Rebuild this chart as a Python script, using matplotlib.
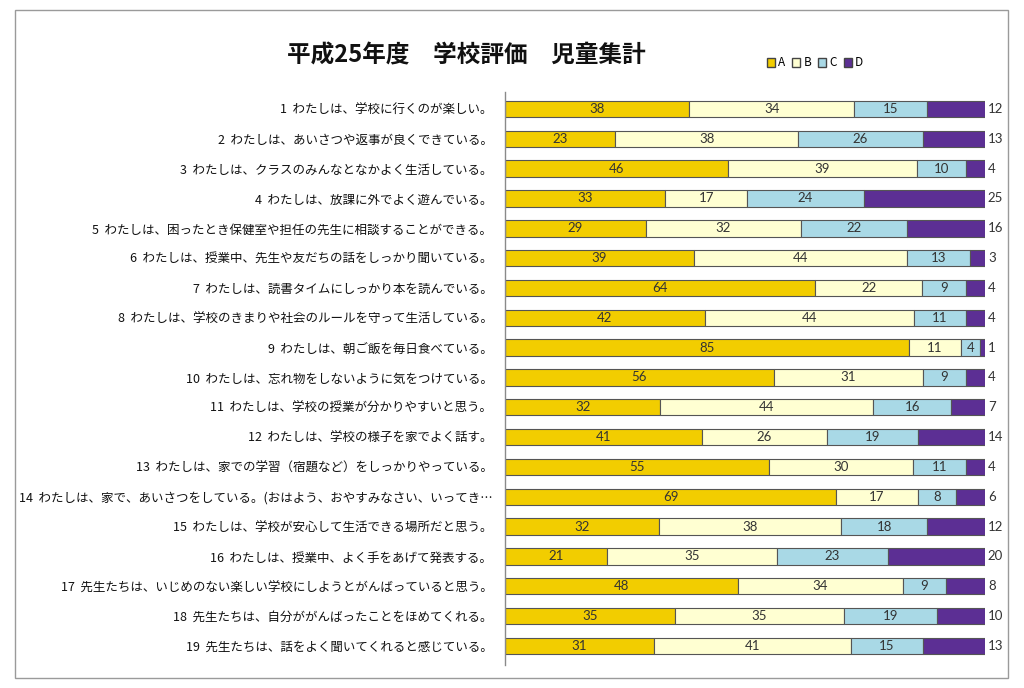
import matplotlib
matplotlib.use("Agg")
import matplotlib.pyplot as plt
import numpy as np
from matplotlib.patches import Rectangle, Patch

plt.rcParams['font.family'] = ['Noto Sans CJK JP', 'DejaVu Sans']

TITLE = "平成25年度　学校評価　児童集計"

questions = [
    "1  わたしは、学校に行くのが楽しい。",
    "2  わたしは、あいさつや返事が良くできている。",
    "3  わたしは、クラスのみんなとなかよく生活している。",
    "4  わたしは、放課に外でよく遊んでいる。",
    "5  わたしは、困ったとき保健室や担任の先生に相談することができる。",
    "6  わたしは、授業中、先生や友だちの話をしっかり聞いている。",
    "7  わたしは、読書タイムにしっかり本を読んでいる。",
    "8  わたしは、学校のきまりや社会のルールを守って生活している。",
    "9  わたしは、朝ご飯を毎日食べている。",
    "10  わたしは、忘れ物をしないように気をつけている。",
    "11  わたしは、学校の授業が分かりやすいと思う。",
    "12  わたしは、学校の様子を家でよく話す。",
    "13  わたしは、家での学習（宿題など）をしっかりやっている。",
    "14  わたしは、家で、あいさつをしている。(おはよう、おやすみなさい、いってき…",
    "15  わたしは、学校が安心して生活できる場所だと思う。",
    "16  わたしは、授業中、よく手をあげて発表する。",
    "17  先生たちは、いじめのない楽しい学校にしようとがんばっていると思う。",
    "18  先生たちは、自分ががんばったことをほめてくれる。",
    "19  先生たちは、話をよく聞いてくれると感じている。",
]

A = [38, 23, 46, 33, 29, 39, 64, 42, 85, 56, 32, 41, 55, 69, 32, 21, 48, 35, 31]
B = [34, 38, 39, 17, 32, 44, 22, 44, 11, 31, 44, 26, 30, 17, 38, 35, 34, 35, 41]
C = [15, 26, 10, 24, 22, 13, 9, 11, 4, 9, 16, 19, 11, 8, 18, 23, 9, 19, 15]
D = [12, 13, 4, 25, 16, 3, 4, 4, 1, 4, 7, 14, 4, 6, 12, 20, 8, 10, 13]

series_names = ["A", "B", "C", "D"]
colors = ["#F2CD00", "#FFFFD2", "#A9D9E6", "#5C2F94"]

data = np.array([A, B, C, D], dtype=float)
totals = data.sum(axis=0)
pct = data / totals * 100

fig = plt.figure(figsize=(10.24, 6.88), dpi=100)
fig.patch.set_facecolor("white")

# scanned page frame
fig.add_artist(Rectangle((15 / 1024, 1 - 678 / 688), 993 / 1024, 668 / 688,
                         transform=fig.transFigure, fill=False,
                         edgecolor="#9a9a9a", lw=1.0))

ax = fig.add_axes([505 / 1024, 1 - 665 / 688, 480 / 1024, 573 / 688])
y = np.arange(len(questions))
left = np.zeros(len(questions))
for k in range(4):
    ax.barh(y, pct[k], left=left, height=0.55, color=colors[k],
            edgecolor="#555555", linewidth=0.8, label=series_names[k])
    for i in range(len(questions)):
        v = int(data[k, i])
        if k < 3:
            ax.text(left[i] + pct[k, i] / 2, y[i], str(v), ha="center",
                    va="center", fontsize=9.5, color="#333333",
                    family=["Lato", "DejaVu Sans"])
        else:
            ax.text(100.6, y[i], str(v), ha="left", va="center",
                    fontsize=9.5, color="#333333",
                    family=["Lato", "DejaVu Sans"])
    left += pct[k]

ax.set_xlim(0, 100)
ax.set_ylim(18.64, -0.57)
ax.set_yticks(y)
ax.set_yticklabels(questions, fontsize=9.0, color="#111111")
ax.tick_params(axis="y", length=0, pad=9)
ax.set_xticks([])
for s in ["top", "right", "bottom"]:
    ax.spines[s].set_visible(False)
ax.spines["left"].set_color("#8a8a8a")
ax.spines["left"].set_linewidth(1.0)

fig.text(466 / 1024, 1 - 55 / 688, TITLE, ha="center", va="center",
         fontsize=17, fontweight="bold", color="#111111")

handles = [Patch(facecolor=c, edgecolor="#444444", label=n)
           for c, n in zip(colors, series_names)]
fig.legend(handles=handles, loc="center", bbox_to_anchor=(815 / 1024, 1 - 63 / 688),
           ncol=4, frameon=False, fontsize=8.5, handlelength=0.7, handleheight=0.7,
           handletextpad=0.25, columnspacing=0.6, borderpad=0)

fig.savefig("out.png", dpi=100, facecolor="white")
